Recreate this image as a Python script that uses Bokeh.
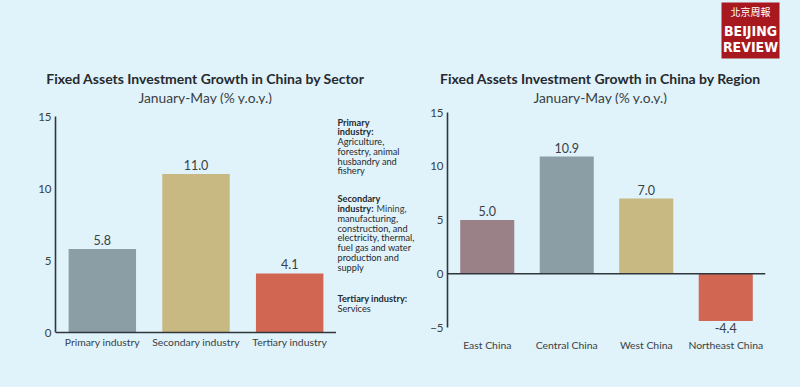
from bokeh.plotting import figure
from bokeh.layouts import row, column
from bokeh.models import ColumnDataSource, LabelSet, Label, Span, BoxAnnotation, FixedTicker, Range1d
from bokeh.core.properties import value
from bokeh.embed import file_html
from bokeh.resources import INLINE

# ---------------- data ----------------
sector_categories = ["Primary industry", "Secondary industry", "Tertiary industry"]
sector_values = [5.8, 11.0, 4.1]
sector_colors = ["#8b9ea6", "#c8b882", "#d16653"]
sector_ticks = [0, 5, 10, 15]

region_categories = ["East China", "Central China", "West China", "Northeast China"]
region_values = [5.0, 10.9, 7.0, -4.4]
region_colors = ["#9a8188", "#8b9ea6", "#c8b882", "#d16653"]
region_ticks = [-5, 0, 5, 10, 15]

sector_title = "Fixed Assets Investment Growth in China by Sector"
region_title = "Fixed Assets Investment Growth in China by Region"
subtitle = "January-May (% y.o.y.)"

notes = [
    [("Primary", "bold", ""), ("industry:", "bold", ""), ("Agriculture,", "normal", ""),
     ("forestry, animal", "normal", ""), ("husbandry and", "normal", ""), ("fishery", "normal", "")],
    [("Secondary", "bold", ""), ("industry:", "bold", "Mining,"), ("manufacturing,", "normal", ""),
     ("construction, and", "normal", ""), ("electricity, thermal,", "normal", ""),
     ("fuel gas and water", "normal", ""), ("production and", "normal", ""), ("supply", "normal", "")],
    [("Tertiary industry:", "bold", ""), ("Services", "normal", "")],
]

# ---------------- style ----------------
BG = "#e0f2fa"
TXT = "#3a3f44"
TITLE = "#262a2e"
AX = "#30363c"
FONT = "Lato"
LOGO_RED = "#a8191f"

# page geometry (px)
PAGE_W, PAGE_H = 800, 387
HEAD_B = 104                 # bottom of header strip
SPLIT1, SPLIT2 = 336, 418    # left chart | notes | right chart
FRAME_T, FRAME_B = 110, 337  # common frame top/bottom for the row

# left chart: frame left edge, value 15 at y=116, value 0 at y=332
L_FL, L_Y15, L_Y0 = 55, 116, 332
# right chart: frame left/right edges, value 15 at y=112, value -5 at y=327
R_FL, R_FR, R_Y15, R_YM5 = 447, 765, 112, 327


def plain_fig(x0, x1, y0, y1, top=0, bottom=0):
    p = figure(x_range=Range1d(x0, x1), y_range=Range1d(y1 - bottom, y0 + top),
               width=x1 - x0, height=y1 - y0, output_backend="svg", toolbar_location=None,
               x_axis_type=None, y_axis_type=None, min_border=0,
               min_border_top=top, min_border_bottom=bottom,
               background_fill_color=BG, border_fill_color=BG, outline_line_color=None)
    p.xgrid.visible = False
    p.ygrid.visible = False
    return p


def style_axes(p, ticks):
    p.xgrid.visible = False
    p.ygrid.visible = False
    p.yaxis.ticker = FixedTicker(ticks=ticks)
    p.yaxis.bounds = (min(ticks), max(ticks))
    for ax in (p.xaxis[0], p.yaxis[0]):
        ax.major_tick_line_color = None
        ax.minor_tick_line_color = None
        ax.major_tick_out = 0
        ax.major_tick_in = 0
        ax.minor_tick_out = 0
        ax.minor_tick_in = 0
        ax.axis_line_color = AX
        ax.axis_line_width = 1.6
        ax.major_label_text_font = FONT
        ax.major_label_text_color = TXT
    p.yaxis.major_label_text_font_size = "11.5px"
    p.xaxis.major_label_text_font_size = "10.4px"
    p.yaxis.major_label_standoff = 4
    p.xaxis.axis_line_color = None
    p.add_layout(Span(location=0, dimension="width", line_color=AX, line_width=1.6))


def add_value_labels(p, cats, vals):
    pos = ColumnDataSource(dict(c=[c for c, v in zip(cats, vals) if v >= 0],
                                v=[v for v in vals if v >= 0],
                                t=[f"{v:.1f}" for v in vals if v >= 0]))
    neg = ColumnDataSource(dict(c=[c for c, v in zip(cats, vals) if v < 0],
                                v=[v for v in vals if v < 0],
                                t=[f"{v:.1f}" for v in vals if v < 0]))
    common = dict(x="c", y="v", text="t", text_font=value(FONT), text_font_size="12.5px",
                  text_color=TXT, text_align="center")
    p.add_layout(LabelSet(source=pos, text_baseline="bottom", y_offset=4, **common))
    p.add_layout(LabelSet(source=neg, text_baseline="top", y_offset=-2, **common))


def chart(cats, vals, cols, ticks, x0, x1, fl, fr, y_hi_px, y_lo_px, bar_w):
    v_hi, v_lo = max(ticks), min(ticks)
    scale = (y_lo_px - y_hi_px) / (v_hi - v_lo)
    y_end = v_hi + (y_hi_px - FRAME_T) / scale
    y_start = v_lo - (FRAME_B - y_lo_px) / scale
    p = figure(x_range=cats, y_range=(y_start, y_end),
               width=x1 - x0, height=PAGE_H - HEAD_B,
               output_backend="svg", toolbar_location=None,
               min_border_left=fl - x0, min_border_right=x1 - fr,
               min_border_top=FRAME_T - HEAD_B, min_border_bottom=PAGE_H - FRAME_B,
               background_fill_color=BG, border_fill_color=BG, outline_line_color=None)
    style_axes(p, ticks)
    src = ColumnDataSource(dict(c=cats, v=vals, col=cols))
    p.vbar(x="c", top="v", width=bar_w, source=src, fill_color="col", line_color=None)
    add_value_labels(p, cats, vals)
    return p


# ---------------- header (titles + logo) ----------------
head = plain_fig(0, PAGE_W, 0, HEAD_B)
for cx, title in ((205, sector_title), (600, region_title)):
    head.add_layout(Label(x=cx, y=78, text=title, text_font=FONT, text_font_style="bold",
                          text_font_size="14px", text_color=TITLE, text_align="center",
                          text_baseline="middle"))
    head.add_layout(Label(x=cx, y=96.5, text=subtitle, text_font=FONT,
                          text_font_size="13.8px", text_color=TXT, text_align="center",
                          text_baseline="middle"))
head.add_layout(BoxAnnotation(left=721, right=779, top=2, bottom=58,
                              fill_color=LOGO_RED, fill_alpha=1.0, line_color=None))
head.add_layout(Label(x=750, y=11, text="北京周報", text_font="Noto Sans CJK TC",
                      text_font_size="10px", text_color="white", text_align="center",
                      text_baseline="middle"))
for yy, word in ((30, "BEIJING"), (46.5, "REVIEW")):
    head.add_layout(Label(x=750, y=yy, text=word,
                          text_font="'Liberation Sans Narrow', 'DejaVu Sans Condensed', sans-serif",
                          text_font_style="bold", text_font_size="14px", text_color="white",
                          text_align="center", text_baseline="middle"))

# ---------------- charts ----------------
p1 = chart(sector_categories, sector_values, sector_colors, sector_ticks,
           0, SPLIT1, L_FL, SPLIT1, L_Y15, L_Y0, 0.72)
p1.xaxis.major_label_standoff = -2

p2 = chart(region_categories, region_values, region_colors, region_ticks,
           SPLIT2, PAGE_W, R_FL, R_FR, R_Y15, R_YM5, 0.68)
p2.xaxis.major_label_standoff = 1

# ---------------- notes ----------------
notes_fig = plain_fig(SPLIT1, SPLIT2, HEAD_B, PAGE_H,
                      top=FRAME_T - HEAD_B, bottom=PAGE_H - FRAME_B)
NOTE_X = 337
block_tops = [121.7, 198.3, 298.3]
STEP = 9.75
for block, top in zip(notes, block_tops):
    for i, (txt, style, extra) in enumerate(block):
        yy = top + i * STEP
        notes_fig.add_layout(Label(x=NOTE_X, y=yy, text=txt, text_font=FONT,
                                   text_font_style=style, text_font_size="9.2px",
                                   text_color=TITLE, text_baseline="middle", text_align="left"))
        if extra:
            notes_fig.add_layout(Label(x=NOTE_X + 39, y=yy, text=extra, text_font=FONT,
                                       text_font_size="9.2px", text_color=TXT,
                                       text_baseline="middle", text_align="left"))

layout = column(head, row(p1, notes_fig, p2))
html = file_html(layout, INLINE)
html = html.replace("</head>", "<style>html, body { background: %s; }</style></head>" % BG, 1)
open("out.html", "w").write(html)
